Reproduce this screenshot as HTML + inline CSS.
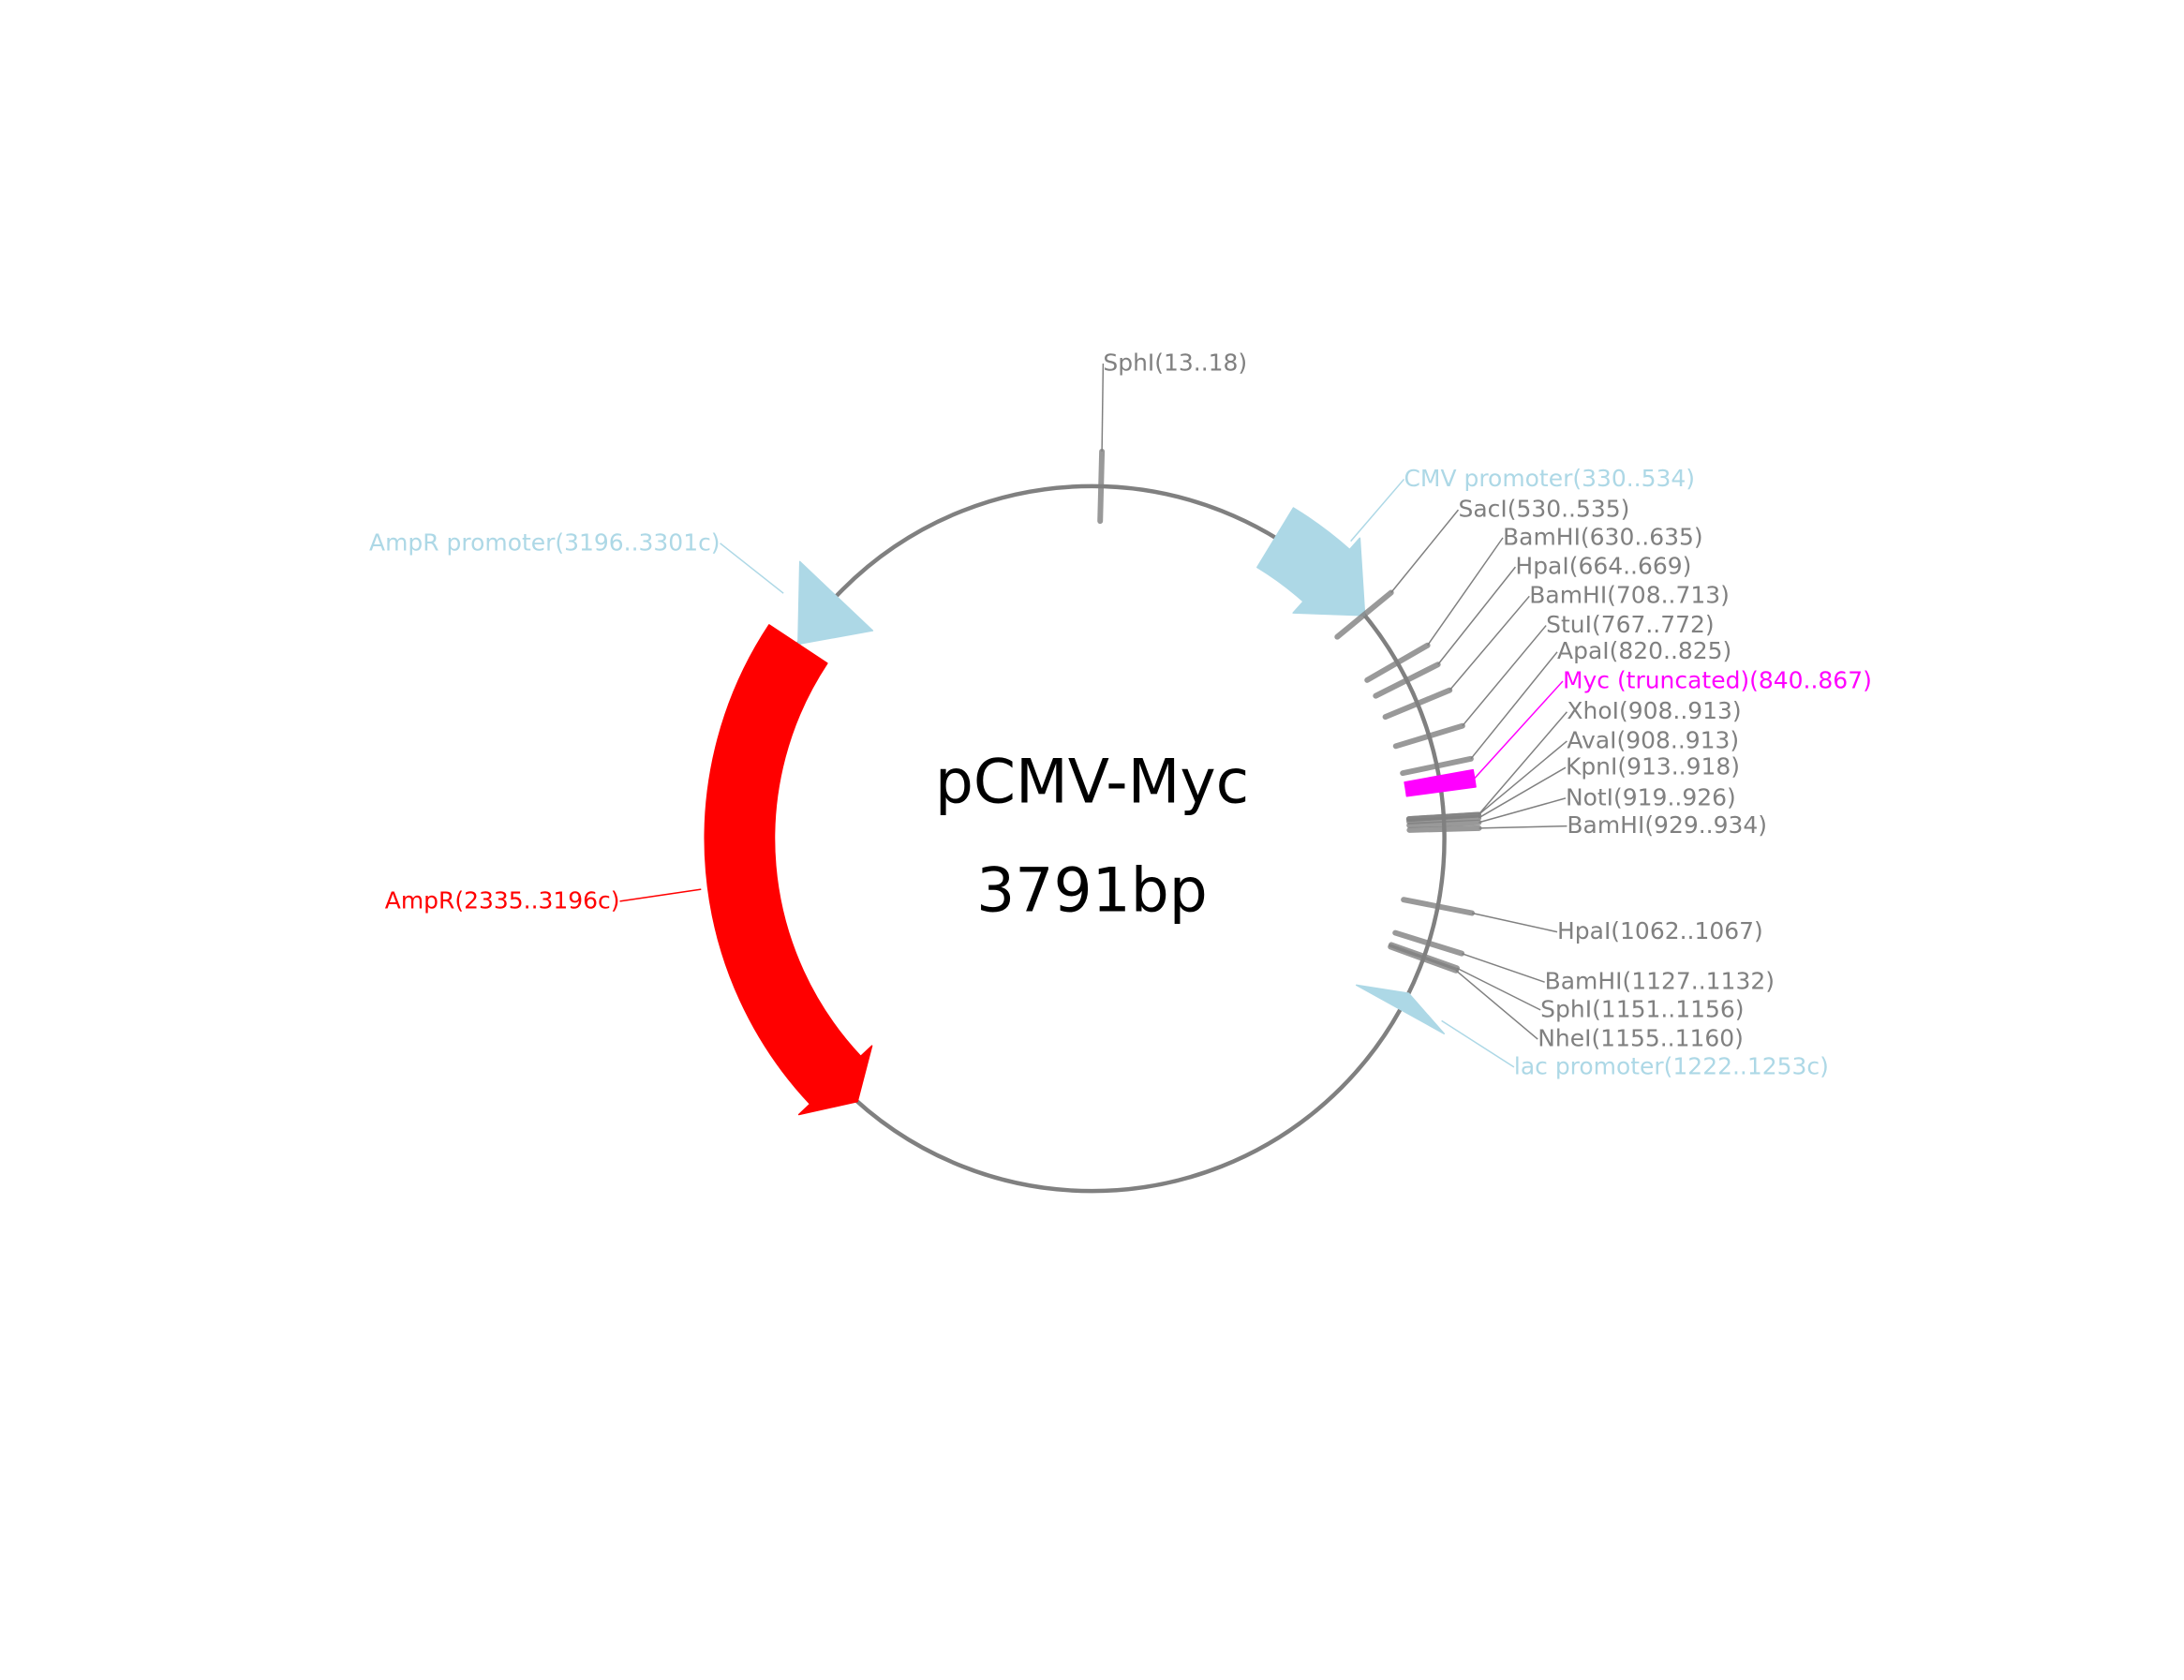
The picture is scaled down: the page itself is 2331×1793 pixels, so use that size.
<!DOCTYPE html>
<html><head><meta charset="utf-8"><title>pCMV-Myc</title>
<style>
html,body{margin:0;padding:0;background:#fff;}
svg{display:block;}
text{font-family:"DejaVu Sans","Liberation Sans",sans-serif;}
</style></head>
<body>
<svg id="map" xmlns="http://www.w3.org/2000/svg" width="2331" height="1793" viewBox="0 0 1568 1206" preserveAspectRatio="none">
<rect x="0" y="0" width="1568" height="1206" fill="#fff"/>
<circle cx="784" cy="602" r="253" fill="none" stroke="#808080" stroke-width="3"/>
<g id="features"></g>
<g id="sites"></g>
<g id="labels"></g>
<text x="784" y="576" text-anchor="middle" font-size="43.5" fill="#000">pCMV-Myc</text>
<text x="784" y="654" text-anchor="middle" font-size="43.5" fill="#000">3791bp</text>
</svg>
<script>
const totalLen = 3791;
const featureNames = ["CMV promoter","AmpR promoter","AmpR","lac promoter","Myc (truncated)"];
const featureStarts = [330, 3196, 2335, 1222, 840];
const featureEnds = [534, 3301, 3196, 1253, 867];
const featureStrand = [1, -1, -1, -1, 0];
const siteNames = ["SphI","SacI","BamHI","HpaI","BamHI","StuI","ApaI","XhoI","AvaI","KpnI","NotI","BamHI","HpaI","BamHI","SphI","NheI"];
const siteStarts = [13,530,630,664,708,767,820,908,908,913,919,929,1062,1127,1151,1155];
const siteEnds = [18,535,635,669,713,772,825,913,913,918,926,934,1067,1132,1156,1160];

// layout (not data)
const CX=784, CY=602, R=253;
const FS=16.8;
const featColors=["#add8e6","#add8e6","#ff0000","#add8e6","#ff00ff"];
const featHead=[9,13,5,3,0];
const featLabelPos=[[1008,343,"start"],[517,389,"end"],[445,646,"end"],[1087,765,"start"],[1122,488,"start"]];
const siteLabelPos=[[792,260],[1047,365],[1079,385],[1088,406],[1098,427],[1110,448],[1118,467],[1125,510],[1125,531],[1124,550],[1124,572],[1125,592],[1118,668],[1109,704],[1106,724],[1104,745]];

const NS="http://www.w3.org/2000/svg";
function ang(bp){return bp/totalLen*2*Math.PI;}
function pt(a,r){return [CX+r*Math.sin(a), CY-r*Math.cos(a)];}
function arcPath(a1,a2,r1,r2){
  const p1=pt(a1,r2),p2=pt(a2,r2),p3=pt(a2,r1),p4=pt(a1,r1);
  const lg=(a2-a1)>Math.PI?1:0;
  return `M${p1} A${r2},${r2} 0 ${lg} 1 ${p2} L${p3} A${r1},${r1} 0 ${lg} 0 ${p4} Z`;
}
const fg=document.getElementById('features');
const sg=document.getElementById('sites');
const lg=document.getElementById('labels');
function mk(tag,attrs,parent){const e=document.createElementNS(NS,tag);for(const k in attrs)e.setAttribute(k,attrs[k]);parent.appendChild(e);return e;}

featureNames.forEach((n,i)=>{
  const a1=ang(featureStarts[i]), a2=ang(featureEnds[i]);
  const hd=featHead[i]*Math.PI/180;
  const bw=25, hw=36;
  let d;
  if(featureStrand[i]===0){
    d=arcPath(a1,a2,R-bw,R+bw);
  } else if(featureStrand[i]===1){
    const hb=Math.max(a1,a2-hd);
    const tip=pt(a2,R);
    let s="";
    if(hb>a1){const p1=pt(a1,R+bw),p2=pt(hb,R+bw),p3=pt(hb,R-bw),p4=pt(a1,R-bw);
      s=`M${p4} L${p1} A${R+bw},${R+bw} 0 0 1 ${p2} L${pt(hb,R+hw)} L${tip} L${pt(hb,R-hw)} L${p3} A${R-bw},${R-bw} 0 0 0 ${p4} Z`;}
    else s=`M${pt(a1,R+hw)} L${tip} L${pt(a1,R-hw)} Z`;
    d=s;
  } else {
    const hb=Math.min(a2,a1+hd);
    const tip=pt(a1,R);
    let s;
    if(hb<a2){const p1=pt(hb,R+bw),p2=pt(a2,R+bw),p3=pt(a2,R-bw),p4=pt(hb,R-bw);
      const lf=(a2-hb)>Math.PI?1:0;
      s=`M${tip} L${pt(hb,R+hw)} L${p1} A${R+bw},${R+bw} 0 ${lf} 1 ${p2} L${p3} A${R-bw},${R-bw} 0 ${lf} 0 ${p4} L${pt(hb,R-hw)} Z`;}
    else s=`M${tip} L${pt(a2,R+hw)} L${pt(a2,R-hw)} Z`;
    d=s;
  }
  const p=mk('path',{d:d,fill:featColors[i],stroke:featColors[i],'stroke-width':1,'stroke-linejoin':'round'},fg);
  
  
  const mid=(a1+a2)/2;
  const from=pt(mid,featureStrand[i]===0?R+bw:R+bw+5);
  const lp=featLabelPos[i];
  const ln=mk('line',{x1:from[0],y1:from[1],x2:lp[0],y2:lp[1]+1,stroke:featColors[i],'stroke-width':1},lg);
  
  
  const t=mk('text',{x:lp[0],y:lp[1]+6,'font-size':FS,fill:featColors[i],'text-anchor':lp[2]},lg);
  t.textContent=`${n}(${featureStarts[i]}..${featureEnds[i]}${featureStrand[i]===-1?'c':''})`;
  
  
});

siteNames.forEach((n,i)=>{
  const a=ang((siteStarts[i]+siteEnds[i])/2);
  const p1=pt(a,R-25),p2=pt(a,R+25);
  const l=mk('line',{x1:p1[0],y1:p1[1],x2:p2[0],y2:p2[1],stroke:'#808080','stroke-width':4,'stroke-opacity':0.8,'stroke-linecap':'round'},sg);
  
  
  const lp=siteLabelPos[i];
  const ln=mk('line',{x1:p2[0],y1:p2[1],x2:lp[0],y2:lp[1]+1,stroke:'#808080','stroke-width':1},lg);
  
  
  const t=mk('text',{x:lp[0],y:lp[1]+6,'font-size':FS,fill:'#808080'},lg);
  t.textContent=`${n}(${siteStarts[i]}..${siteEnds[i]})`;
  
  
});
</script>
</body></html>
